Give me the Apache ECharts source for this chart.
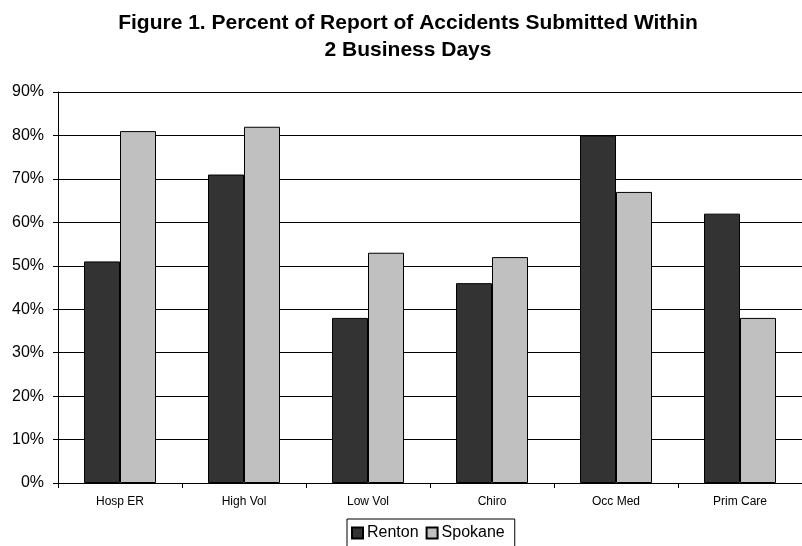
<!DOCTYPE html>
<html>
<head>
<meta charset="utf-8">
<script src="https://cdn.jsdelivr.net/npm/echarts@6/dist/echarts.min.js"></script>
<style>
  html, body { margin: 0; padding: 0; background: #fff; }
  #chart { width: 802px; height: 546px; }
</style>
</head>
<body>
<div id="chart"></div>
<script>
// Provider categories and the share of accident reports sent within 2 business days
const categories = ['Hosp ER', 'High Vol', 'Low Vol', 'Chiro', 'Occ Med', 'Prim Care'];
const renton = [51, 71, 38, 46, 80, 62];
const spokane = [81, 82, 53, 52, 67, 38];
const seriesNames = ['Renton', 'Spokane'];
const titleText = 'Figure 1. Percent of Report of Accidents Submitted Within\n2 Business Days';

const font = '"Liberation Sans", Arial, sans-serif';
const chart = echarts.init(document.getElementById('chart'), null, { renderer: 'canvas' });

chart.setOption({
  animation: false,
  backgroundColor: '#ffffff',
  title: {
    text: titleText,
    left: 408,
    textAlign: 'center',
    top: 10,
    padding: 0,
    textStyle: {
      fontFamily: font,
      fontSize: 21,
      fontWeight: 'bold',
      color: '#000',
      lineHeight: 27
    }
  },
  legend: {
    data: seriesNames,
    left: 347,
    top: 519,
    orient: 'horizontal',
    icon: 'rect',
    itemWidth: 11,
    itemHeight: 11,
    itemGap: 7,
    padding: [6, 10, 6, 4],
    borderColor: '#000',
    borderWidth: 1,
    textStyle: { fontFamily: font, fontSize: 16, color: '#000', padding: [0, 0, 0, -1] }
  },
  grid: {
    left: 58,
    top: 92,
    width: 755,
    height: 391,
    containLabel: false
  },
  xAxis: {
    type: 'category',
    data: categories,
    axisLine: { lineStyle: { color: '#000', width: 1 } },
    axisTick: { show: true, alignWithLabel: false, length: 5, lineStyle: { color: '#000' } },
    axisLabel: { fontFamily: font, fontSize: 12, color: '#000', margin: 13 },
    splitLine: { show: false }
  },
  yAxis: {
    type: 'value',
    min: 0,
    max: 90,
    interval: 10,
    axisLine: { show: true, lineStyle: { color: '#000', width: 1 } },
    axisTick: { show: true, length: 5, lineStyle: { color: '#000' } },
    axisLabel: { fontFamily: font, fontSize: 16, color: '#000', margin: 14, formatter: '{value}%' },
    splitLine: { show: true, lineStyle: { color: '#000', width: 1 } }
  },
  series: [
    {
      name: seriesNames[0],
      type: 'bar',
      data: renton,
      barWidth: 36,
      barGap: '0%',
      itemStyle: { color: '#333333', borderColor: '#000', borderWidth: 1 }
    },
    {
      name: seriesNames[1],
      type: 'bar',
      data: spokane,
      barWidth: 36,
      barGap: '0%',
      itemStyle: { color: '#c0c0c0', borderColor: '#000', borderWidth: 1 }
    }
  ]
});
</script>
</body>
</html>
